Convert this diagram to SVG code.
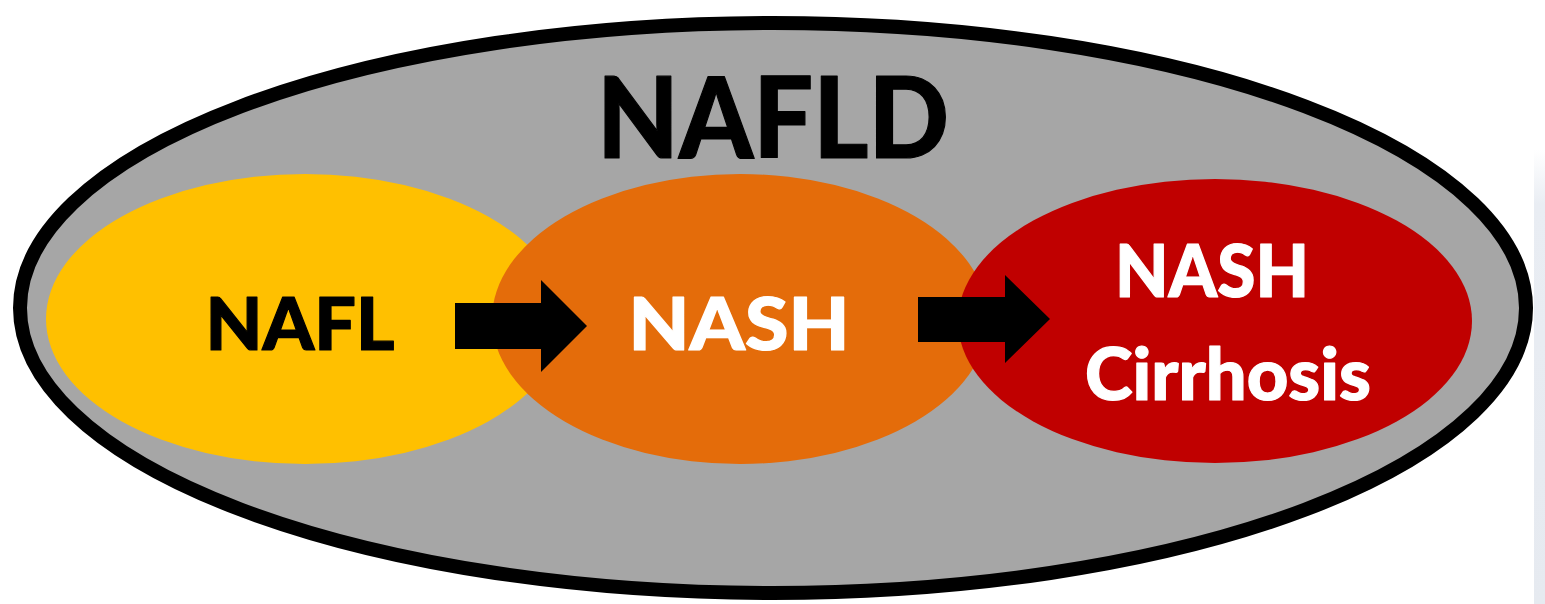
<svg xmlns="http://www.w3.org/2000/svg" width="1545" height="604" viewBox="0 0 1545 604">
<defs>
<linearGradient id="pg" x1="0" y1="0" x2="0" y2="1">
<stop offset="0" stop-color="#ffffff"/>
<stop offset="0.12" stop-color="#e9edf3"/>
<stop offset="1" stop-color="#e6eaf0"/>
</linearGradient>
</defs>
<style>
.lbl{font-family:Lato,"Open Sans","Liberation Sans",sans-serif;font-weight:900;text-anchor:middle;stroke-width:1.2;stroke-linejoin:round}
.dark{fill:#000000;stroke:#000000}
.light{fill:#ffffff;stroke:#ffffff}
.arrow{fill:#000000}
</style>
<rect width="1545" height="604" fill="#ffffff"/>
<rect x="1534" y="150" width="11" height="454" fill="url(#pg)"/>
<g id="nafld">
<ellipse cx="773" cy="308" rx="753" ry="285" fill="#a6a6a6" stroke="#000000" stroke-width="14"/>
<text class="lbl dark" x="773" y="158" font-size="112" textLength="352" lengthAdjust="spacingAndGlyphs">NAFLD</text>
</g>
<g id="nafl">
<ellipse cx="305" cy="319" rx="259" ry="145" fill="#ffc000"/>
<text class="lbl dark" x="300" y="350" font-size="73" textLength="189" lengthAdjust="spacingAndGlyphs">NAFL</text>
</g>
<g id="nash">
<ellipse cx="740" cy="319" rx="248" ry="145" fill="#e46c0a"/>
<text class="lbl light" x="739" y="350" font-size="73" textLength="221" lengthAdjust="spacingAndGlyphs">NASH</text>
</g>
<g id="cirrhosis">
<ellipse cx="1215" cy="321" rx="257" ry="142" fill="#c00000"/>
<text class="lbl light" x="1212" y="297" font-size="73" textLength="194" lengthAdjust="spacingAndGlyphs">NASH</text>
<text class="lbl light" x="1228" y="400" font-size="73" textLength="286" lengthAdjust="spacingAndGlyphs">Cirrhosis</text>
</g>
<g id="connectors">
<polygon class="arrow" points="455,303 541,303 541,280 587,326 541,372 541,349 455,349"/>
<polygon class="arrow" points="918,297 1005,297 1005,275 1050,319 1005,363 1005,342 918,342"/>
</g>
</svg>
